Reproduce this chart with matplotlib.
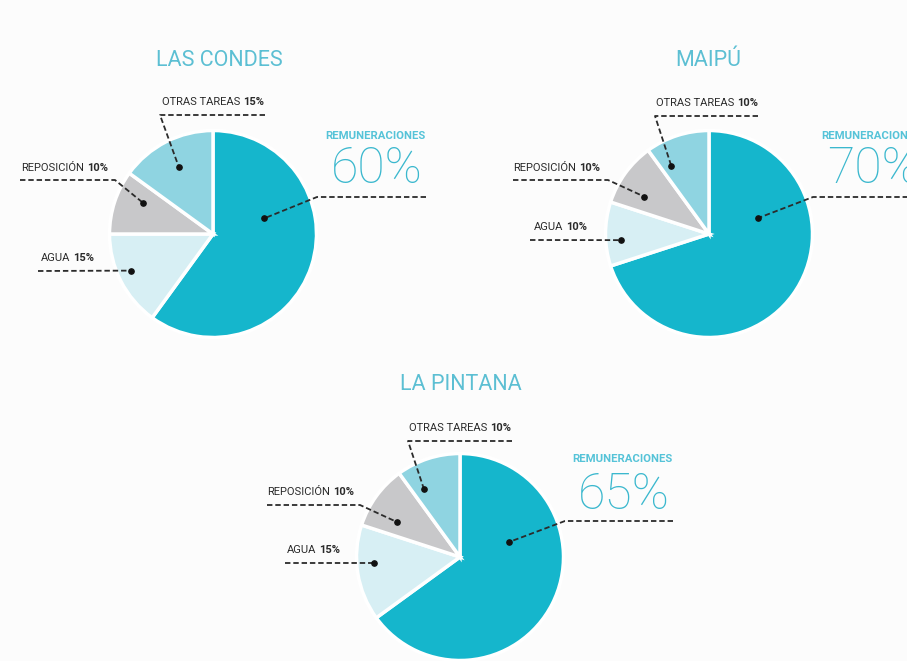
import numpy as np
import matplotlib.pyplot as plt

plt.rcParams['font.family'] = ['Roboto', 'DejaVu Sans']

W, H = 907, 661

comunas = ['LAS CONDES', 'MAIPÚ', 'LA PINTANA']
categorias = ['REMUNERACIONES', 'AGUA', 'REPOSICIÓN', 'OTRAS TAREAS']
las_condes = [60, 15, 10, 15]
maipu = [70, 10, 10, 10]
la_pintana = [65, 15, 10, 10]
valores = [las_condes, maipu, la_pintana]

colores = ['#15b6cc', '#d7eff4', '#c8c8ca', '#8fd4e1']
txt_cyan = '#3bb8ce'
oscuro = '#2b2b2b'

# layout in pixels from the top-left corner
centros = [(213, 234), (709, 234), (460, 557)]
radio = 103.5
titulos = [(219, 61), (708, 61), (461, 384)]

# small labels: text right edge / center y, dashed path, dot (angle deg, radius fraction)
etiquetas = [
    {   # las condes
        'OTRAS TAREAS': dict(txt=(264, 102), path=[(265, 115), (160, 115)], dot=(117, 0.73)),
        'REPOSICIÓN': dict(txt=(108, 168), path=[(20, 180), (115, 180)], dot=(156, 0.74)),
        'AGUA': dict(txt=(94, 258), path=[(38, 271)], dot=(204, 0.87)),
        'REMUNERACIONES': dict(path=[(426, 197), (317, 197)], dot=(17, 0.52)),
    },
    {   # maipu
        'OTRAS TAREAS': dict(txt=(758, 103), path=[(758, 116), (655, 116)], dot=(119, 0.75)),
        'REPOSICIÓN': dict(txt=(600, 168), path=[(513, 180), (608, 180)], dot=(150, 0.72)),
        'AGUA': dict(txt=(587, 227), path=[(530, 240)], dot=(184, 0.85)),
        'REMUNERACIONES': dict(path=[(922, 197), (813, 197)], dot=(18, 0.5)),
    },
    {   # la pintana
        'OTRAS TAREAS': dict(txt=(511, 428), path=[(512, 441), (408, 441)], dot=(118, 0.74)),
        'REPOSICIÓN': dict(txt=(354, 492), path=[(267, 505), (360, 505)], dot=(151, 0.70)),
        'AGUA': dict(txt=(340, 550), path=[(285, 563)], dot=(184, 0.83)),
        'REMUNERACIONES': dict(path=[(673, 521), (565, 521)], dot=(17, 0.5)),
    },
]
remun_txt = [(375, 136, 377, 169), (871, 136, 873, 169), (622, 459, 624, 495)]

fig = plt.figure(figsize=(W / 100, H / 100), dpi=100)
fig.patch.set_facecolor('#fcfcfc')
ax = fig.add_axes([0, 0, 1, 1])
ax.set_facecolor('#fcfcfc')


def Y(y):
    return H - y


for i, vals in enumerate(valores):
    cx, cy = centros[i]
    ax.pie(vals, colors=colores, startangle=90, counterclock=False,
           center=(cx, Y(cy)), radius=radio,
           wedgeprops=dict(edgecolor='white', linewidth=2.5))
    tx, ty = titulos[i]
    ax.text(tx, Y(ty), comunas[i], ha='center', va='center', fontsize=15.5,
            color='#5cbfd3')

    for cat, v in zip(categorias, vals):
        lay = etiquetas[i][cat]
        ang, rf = lay['dot']
        dx = cx + radio * rf * np.cos(np.radians(ang))
        dy = Y(cy) + radio * rf * np.sin(np.radians(ang))
        xs = [p[0] for p in lay['path']] + [dx]
        ys = [Y(p[1]) for p in lay['path']] + [dy]
        ax.plot(xs, ys, color=oscuro, lw=1.3, linestyle=(0, (3, 1.6)),
                solid_capstyle='butt')
        ax.plot(dx, dy, 'o', color='#111111', ms=3.8)
        if cat == 'REMUNERACIONES':
            lx, ly, px, py = remun_txt[i]
            ax.text(lx, Y(ly), cat, ha='center', va='center', fontsize=8.2,
                    fontweight='bold', color='#55c3d8')
            ax.text(px, Y(py), f'{v}%', ha='center', va='center', fontsize=36,
                    fontweight='light', color=txt_cyan)
        else:
            rx, ry = lay['txt']
            t = ax.text(rx, Y(ry), f'{v}%', ha='right', va='center',
                        fontsize=8, fontweight='bold', color=oscuro)
            ax.annotate(cat, xy=(0, 0.5), xycoords=t, xytext=(-2, 0),
                        textcoords='offset points', ha='right', va='center',
                        fontsize=8, color=oscuro)

ax.set_xlim(0, W)
ax.set_ylim(0, H)
ax.set_aspect('auto')
ax.axis('off')

fig.savefig('out.png', dpi=100, facecolor=fig.get_facecolor())
